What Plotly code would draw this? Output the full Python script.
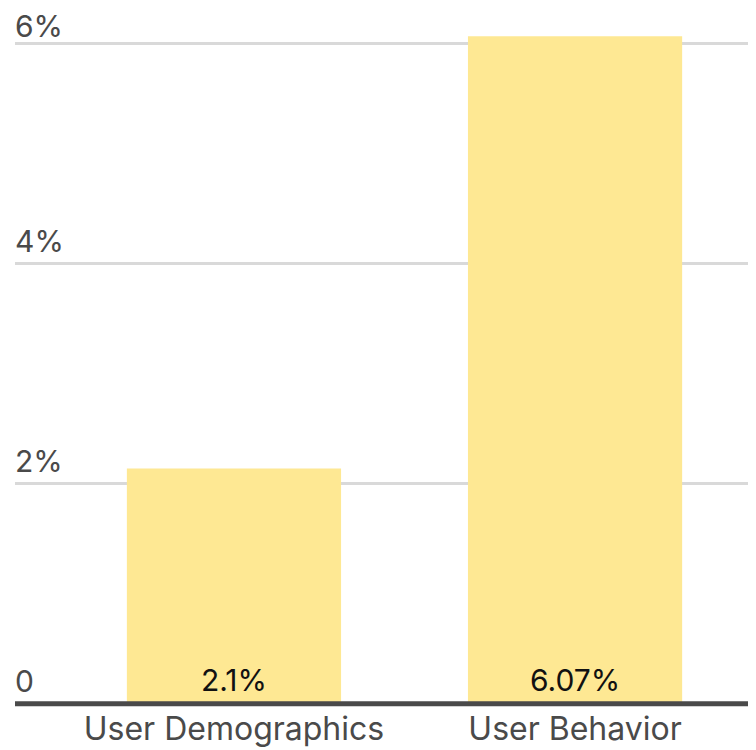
import plotly.graph_objects as go

categories = ["User Demographics", "User Behavior"]
values = [2.14, 6.07]
value_labels = ["2.1%", "6.07%"]
tick_vals = [0, 2, 4, 6]
tick_text = ["0", "2%", "4%", "6%"]

FONT = "Inter"
fig = go.Figure()
fig.add_trace(go.Bar(
    x=categories, y=values, marker=dict(color="#fee893", line=dict(width=0)),
    hoverinfo="skip", showlegend=False,
))

for c, v, t in zip(categories, values, value_labels):
    fig.add_annotation(x=c, y=0, xref="x", yref="y", text=t, showarrow=False,
                       yanchor="bottom", yshift=4,
                       font=dict(family=FONT, size=30, color="#111111"))

for i, (tv, tt) in enumerate(zip(tick_vals, tick_text)):
    top = i == len(tick_vals) - 1
    fig.add_annotation(x=0, y=tv, xref="paper", yref="y", text=tt, showarrow=False,
                       xanchor="left", yanchor="bottom", yshift=-2 if top else 3, xshift=-2,
                       font=dict(family=FONT, size=30, color="#4a4a4a"))

fig.add_shape(type="line", xref="paper", yref="y", x0=0, x1=1, y0=0, y1=0,
              line=dict(color="#4a4a4a", width=5), layer="above")

fig.update_layout(
    width=756, height=750,
    margin=dict(l=7, r=15, t=3, b=51),
    paper_bgcolor="white", plot_bgcolor="white",
    bargap=0.372,
    xaxis=dict(range=[-0.642, 1.51], showgrid=False, zeroline=False, showline=False,
               ticks="", ticklabelstandoff=0,
               tickfont=dict(family=FONT, size=32, color="#4a4a4a")),
    yaxis=dict(range=[-0.03, 6.3], tickvals=[2, 4, 6], showticklabels=False,
               showgrid=True, gridcolor="#d9d9d9", gridwidth=3, zeroline=False, showline=False),
)

fig.write_html("out.html")
